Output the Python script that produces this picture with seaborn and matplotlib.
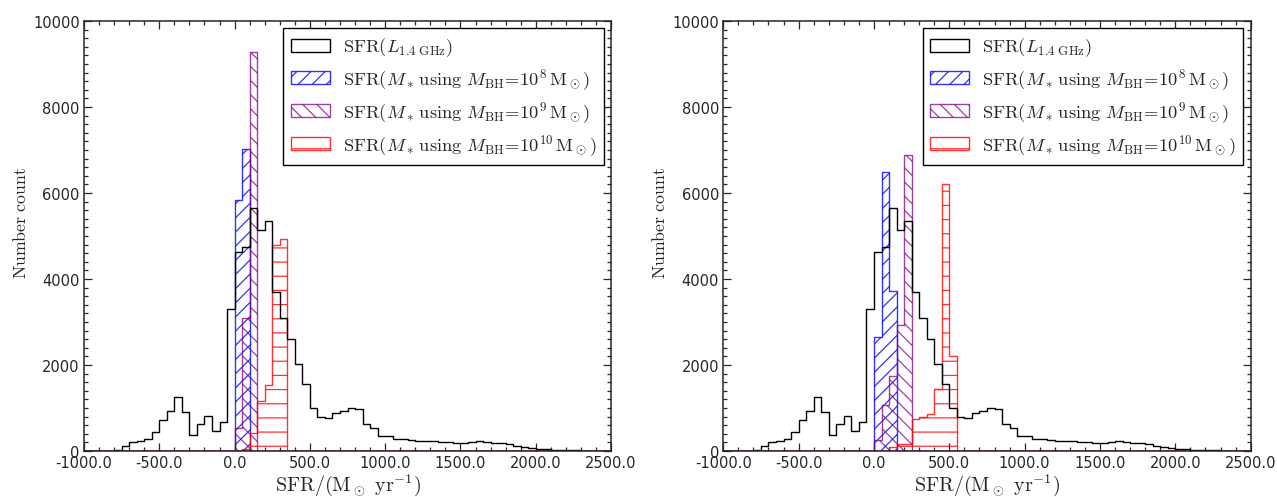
"""Two-panel SFR histogram comparison (radio vs stellar-mass based SFR)."""
import matplotlib
matplotlib.use("Agg")
import matplotlib.pyplot as plt
import numpy as np
import seaborn as sns
from matplotlib.patches import Patch
from matplotlib.ticker import FormatStrFormatter, MultipleLocator

# bin edges: -1000 .. 2500 in steps of 50 (70 bins)
BIN_START = -1000
BIN_STEP = 50
N_BINS = 70

# SFR(L_1.4GHz) counts, one per bin starting at -1000 (same in both panels)
radio_counts = [
    0, 0, 0, 10, 30, 120, 200, 225, 280, 435,
    720, 940, 1250, 915, 370, 630, 820, 475, 665, 3300,
    4620, 4740, 5660, 5150, 5360, 3690, 3090, 2600, 2015, 1560,
    1000, 800, 775, 875, 940, 990, 980, 630, 525, 350,
    340, 280, 270, 265, 240, 235, 225, 205, 200, 195,
    190, 215, 240, 220, 195, 185, 170, 125, 85, 80,
    45, 40, 30, 20, 15, 15, 10, 5, 5, 5,
]

# stellar-mass based SFR, non-zero bins only {bin left edge: count}
left_blue = {0: 5840, 50: 7020}
left_purple = {0: 527, 50: 3085, 100: 9270}
left_red = {50: 50, 100: 420, 150: 1170, 200: 1540, 250: 4800, 300: 4925}

right_blue = {0: 2660, 50: 6500, 100: 3710}
right_purple = {0: 264, 50: 1070, 100: 1740, 150: 2940, 200: 6890}
right_red = {100: 100, 150: 170, 200: 170, 250: 740, 300: 800, 350: 860,
             400: 1430, 450: 6210, 500: 2200}

labels = [
    r"$\mathrm{SFR}(L_{1.4\ \mathrm{GHz}})$",
    r"$\mathrm{SFR}(M_*\,\mathrm{using}\ M_{\mathrm{BH}}\!=\!10^{8}\,\mathrm{M}_\odot)$",
    r"$\mathrm{SFR}(M_*\,\mathrm{using}\ M_{\mathrm{BH}}\!=\!10^{9}\,\mathrm{M}_\odot)$",
    r"$\mathrm{SFR}(M_*\,\mathrm{using}\ M_{\mathrm{BH}}\!=\!10^{10}\,\mathrm{M}_\odot)$",
]

# render at 85 dpi so the hatch spacing matches; sizes below are rescaled
DPI = 85
S = 100 / DPI

sns.set_theme(style="ticks")
plt.rcParams["font.family"] = ["DejaVu Sans"]
plt.rcParams["mathtext.fontset"] = "cm"
plt.rcParams["hatch.linewidth"] = 0.9 * S

centers = BIN_START + BIN_STEP * (np.arange(N_BINS) + 0.5)
BIN_RANGE = (BIN_START, BIN_START + BIN_STEP * N_BINS)

BLUE = (0, 0, 1, 0.8)
PURPLE = (0.5, 0, 0.5, 0.75)
RED = (1, 0, 0, 0.8)
LW = 1.0 * S
HATCHES = ["//", "\\\\", "-"]


def to_counts(d):
    out = np.zeros(N_BINS)
    for left, c in d.items():
        out[(left - BIN_START) // BIN_STEP] = c
    return out


def hatched(ax, counts, color, hatch):
    sns.histplot(x=centers, weights=counts, binwidth=BIN_STEP, binrange=BIN_RANGE,
                 element="step", fill=True, color=color, facecolor="none",
                 edgecolor=color, hatch=hatch, linewidth=LW, ax=ax)


def panel(ax, blue, purple, red):
    sns.histplot(x=centers, weights=np.asarray(radio_counts, float),
                 binwidth=BIN_STEP, binrange=BIN_RANGE, element="step",
                 fill=False, color="black", linewidth=LW, ax=ax)
    hatched(ax, to_counts(blue), BLUE, HATCHES[0])
    hatched(ax, to_counts(purple), PURPLE, HATCHES[1])
    hatched(ax, to_counts(red), RED, HATCHES[2])

    ax.set_xlim(-1000, 2500)
    ax.set_ylim(0, 10000)
    ax.xaxis.set_major_locator(MultipleLocator(500))
    ax.xaxis.set_minor_locator(MultipleLocator(100))
    ax.yaxis.set_major_locator(MultipleLocator(2000))
    ax.yaxis.set_minor_locator(MultipleLocator(200))
    ax.xaxis.set_major_formatter(FormatStrFormatter("%.1f"))
    ax.tick_params(which="both", direction="in", top=True, right=True,
                   labelsize=10.5 * S, width=0.9 * S, pad=3 * S)
    ax.tick_params(which="major", length=6 * S)
    ax.tick_params(which="minor", length=3 * S)
    for s in ax.spines.values():
        s.set_linewidth(1.1 * S)
    ax.set_xlabel(r"$\mathrm{SFR/(M_\odot\ yr^{-1})}$", fontsize=14.5 * S)
    ax.set_ylabel(r"$\mathrm{Number\ count}$", fontsize=12.8 * S)
    ax.xaxis.set_label_coords(0.5, -0.047)
    ax.yaxis.set_label_coords(-0.102, 0.533)

    handles = [
        Patch(facecolor="none", edgecolor="black", linewidth=LW),
        Patch(facecolor="none", edgecolor=BLUE, hatch=HATCHES[0], linewidth=LW),
        Patch(facecolor="none", edgecolor=PURPLE, hatch=HATCHES[1], linewidth=LW),
        Patch(facecolor="none", edgecolor=RED, hatch=HATCHES[2], linewidth=LW),
    ]
    leg = ax.legend(handles, labels, loc="upper right", fontsize=13.3 * S,
                    fancybox=False, framealpha=1, edgecolor="black",
                    borderaxespad=0.4, labelspacing=0.42, handlelength=2.1,
                    handletextpad=0.7)
    leg.get_frame().set_linewidth(1.0 * S)


fig = plt.figure(figsize=(1277 / DPI, 498 / DPI), dpi=DPI)
ax1 = fig.add_axes([0.0658, 0.0924, 0.4127, 0.8634])
ax2 = fig.add_axes([0.5664, 0.0924, 0.4130, 0.8634])
panel(ax1, left_blue, left_purple, left_red)
panel(ax2, right_blue, right_purple, right_red)

fig.savefig("out.png", dpi=DPI)
